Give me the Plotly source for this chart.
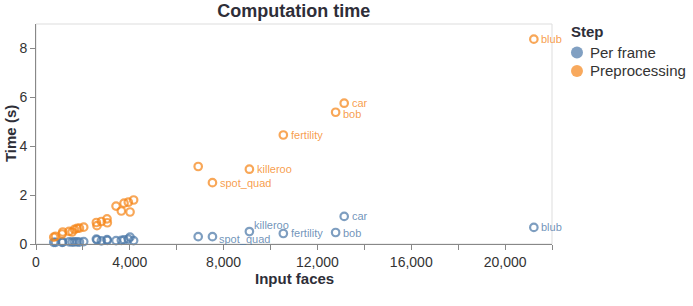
import plotly.graph_objects as go

# ---- data ----
faces = [757, 830, 1115, 1140, 1413, 1540, 1638, 1753, 1851, 2034,
         2574, 2600, 2787, 3028, 3040, 3413, 3638, 3753, 3936, 4009, 4162,
         6915, 7523, 9098, 10545, 12775, 13140, 21226]
names = [""] * 22 + ["spot_quad", "killeroo", "fertility", "bob", "car", "blub"]
preprocessing = [0.28, 0.31, 0.41, 0.49, 0.52, 0.49, 0.60, 0.64, 0.65, 0.69,
                 0.88, 0.75, 0.92, 1.03, 0.87, 1.55, 1.35, 1.67, 1.71, 1.31, 1.80,
                 3.17, 2.51, 3.06, 4.46, 5.39, 5.76, 8.38]
per_frame = [0.07, 0.07, 0.07, 0.08, 0.09, 0.08, 0.09, 0.09, 0.08, 0.10,
             0.20, 0.17, 0.13, 0.18, 0.15, 0.14, 0.15, 0.17, 0.20, 0.28, 0.14,
             0.30, 0.30, 0.51, 0.43, 0.47, 1.13, 0.68]
steps = ["Per frame", "Preprocessing"]
x_tick_values = list(range(0, 22001, 2000))
x_tick_labels = [f"{v:,}" if v % 4000 == 0 else "" for v in x_tick_values]
y_tick_values = [0, 2, 4, 6, 8]

# ---- style / layout ----
FONT = "Liberation Sans, Arial, Helvetica, sans-serif"
W, H = 693, 306
PL, PR, PT, PB = 35.5, 552.0, 24.3, 244.3   # plot area in pixels
PW, PH = PR - PL, PB - PT
COLORS = {"Per frame": "#4c78a8", "Preprocessing": "#f58518"}
TCOLORS = {"Per frame": "rgba(76,120,168,0.8)", "Preprocessing": "rgba(245,133,24,0.8)"}
FILL = {"Per frame": "rgba(76,120,168,0.7)", "Preprocessing": "rgba(245,133,24,0.7)"}
TITLE_COL = "#2e2e38"
label_shift = {("Per frame", "killeroo"): (3, 7),
               ("Per frame", "spot_quad"): (5, -2),
               ("Preprocessing", "bob"): (5.5, -2)}


def px_x(p):
    return (p - PL) / PW


def px_y(p):
    return (PB - p) / PH


fig = go.Figure()
for name, vals in zip(steps, [per_frame, preprocessing]):
    col = COLORS[name]
    fig.add_trace(go.Scatter(
        x=faces, y=vals, mode="markers", name=name, showlegend=False,
        marker=dict(symbol="circle-open", size=7.5, color=col, opacity=0.72,
                    line=dict(width=2.2, color=col)),
        cliponaxis=False, hoverinfo="skip"))
    for xv, yv, lab in zip(faces, vals, names):
        if not lab:
            continue
        dx, dy = label_shift.get((name, lab), (5.5, 0))
        fig.add_annotation(x=xv, y=yv, text=lab, showarrow=False,
                           xanchor="left", yanchor="middle",
                           xshift=dx, yshift=dy,
                           font=dict(family=FONT, size=11, color=TCOLORS[name]))

# frame
fig.add_shape(type="rect", xref="paper", yref="paper", x0=0, y0=0, x1=1, y1=1,
              line=dict(color="#dddddd", width=1), layer="below")

# legend (drawn manually)
fig.add_annotation(xref="paper", yref="paper", x=px_x(569.5), y=px_y(32),
                   text="<b>Step</b>", showarrow=False, xanchor="left", yanchor="middle",
                   font=dict(family=FONT, size=15, color=TITLE_COL))
for i, name in enumerate(steps):
    cy = 52.7 + i * 18.5
    fig.add_shape(type="circle", xref="paper", yref="paper",
                  xsizemode="pixel", ysizemode="pixel",
                  xanchor=px_x(577), yanchor=px_y(cy),
                  x0=-6, x1=6, y0=-6, y1=6,
                  fillcolor=FILL[name], line=dict(width=0))
    fig.add_annotation(xref="paper", yref="paper", x=px_x(588.5), y=px_y(cy),
                       text=name, showarrow=False, xanchor="left", yanchor="middle",
                       font=dict(family=FONT, size=15, color="#333333"))

# axis titles
fig.add_annotation(xref="paper", yref="paper", x=0.5, y=px_y(278.5),
                   text="<b>Input faces</b>", showarrow=False,
                   xanchor="center", yanchor="middle",
                   font=dict(family=FONT, size=15, color=TITLE_COL))
fig.add_annotation(xref="paper", yref="paper", x=px_x(9.5), y=0.5,
                   text="<b>Time (s)</b>", showarrow=False, textangle=-90,
                   xanchor="center", yanchor="middle",
                   font=dict(family=FONT, size=15, color=TITLE_COL))

fig.update_layout(
    width=W, height=H,
    margin=dict(l=PL, r=W - PR, t=PT, b=H - PB, autoexpand=False),
    paper_bgcolor="white", plot_bgcolor="white",
    font=dict(family=FONT, color="#333333"),
    showlegend=False,
    title=dict(text="<b>Computation time</b>", x=(0.5 * (PL + PR)) / W,
               xanchor="center", y=1 - 11 / H, yanchor="middle",
               font=dict(size=18, color=TITLE_COL)),
    xaxis=dict(range=[0, 22000], tickvals=x_tick_values, ticktext=x_tick_labels,
               showgrid=False, zeroline=False, showline=True, linecolor="#888888",
               linewidth=1, ticks="outside", ticklen=5, tickcolor="#888888",
               tickfont=dict(size=14, color="#333333"), automargin=False),
    yaxis=dict(range=[0, 9], tickvals=y_tick_values,
               showgrid=False, zeroline=False, showline=True, linecolor="#888888",
               linewidth=1, ticks="outside", ticklen=5, tickcolor="#888888",
               tickfont=dict(size=14, color="#333333"), automargin=False),
)

fig.write_html("out.html", config={"displayModeBar": False},
               post_script="document.body.style.margin='0';document.body.style.overflow='hidden';")
